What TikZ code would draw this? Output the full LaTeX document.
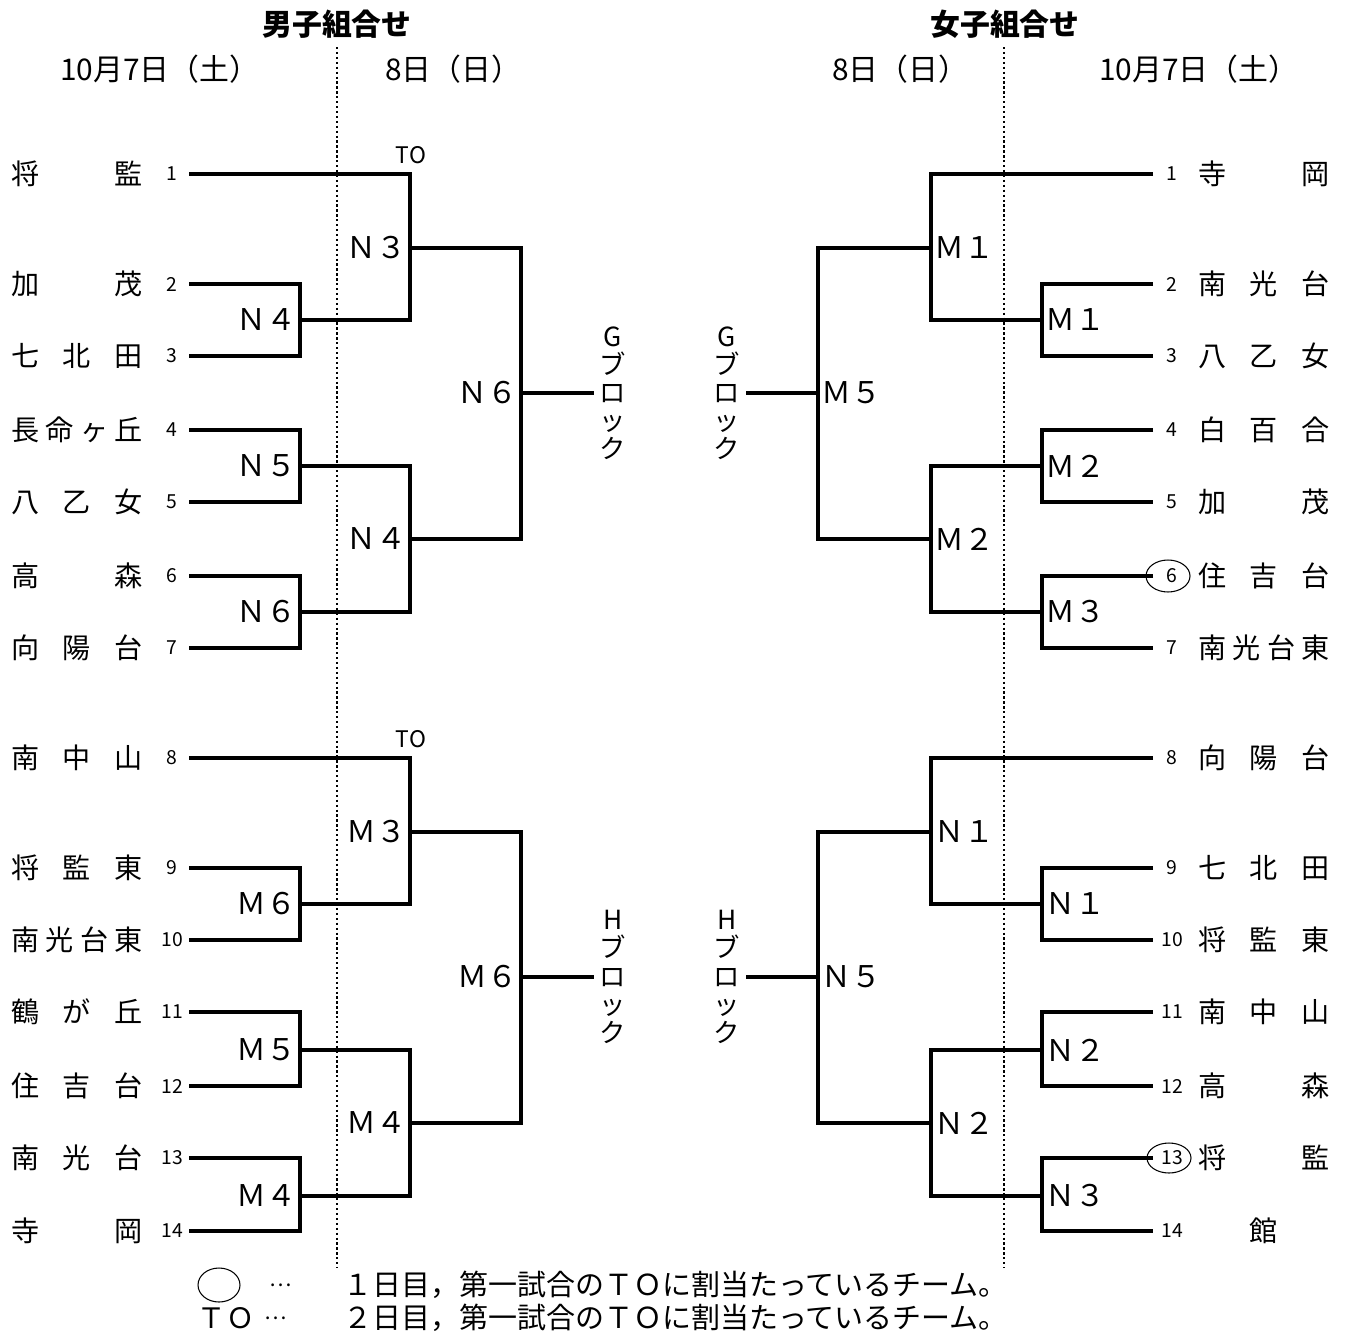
\documentclass[tikz,border=0pt]{standalone}
\usepackage{fontspec}
\setmainfont{Noto Sans CJK JP}
\usetikzlibrary{shapes.geometric}
\newcommand\setfs[1]{\fontsize{#1}{#1}\selectfont}

\begin{document}
\begin{tikzpicture}[x=0.02cm, y=-0.02cm,
	bracket/.style={line width=1.8pt},
	daysep/.style={line width=1.3pt, dash pattern=on 1.3pt off 1.5pt},
	team/.style={inner sep=0pt, font=\setfs{16}},
	seed/.style={inner sep=0pt, font=\setfs{11}},
	lblL/.style={anchor=east, inner sep=2pt, font=\setfs{17}},
	lblR/.style={anchor=west, inner sep=2pt, font=\setfs{17}},
	blocktxt/.style={align=center, font=\fontsize{15}{16}\selectfont, inner sep=3pt},
	tomark/.style={font=\setfs{13}},
	ring/.style={draw, ellipse, line width=0.6pt, inner sep=0pt}]
	\useasboundingbox (0,0) rectangle (1349,1339);

	% titles and days
	\node[font=\setfs{17}\bfseries] (boys) at (337,24) {男子組合せ};
	\node[font=\setfs{17}\bfseries] (girls) at (1005,24) {女子組合せ};
	\node[anchor=west, font=\setfs{17}] (dayLa) at (54,69) {10月7日（土）};
	\node[anchor=west, font=\setfs{17}] (dayLb) at (379,69) {8日（日）};
	\node[anchor=west, font=\setfs{17}] (dayRb) at (826,69) {8日（日）};
	\node[anchor=west, font=\setfs{17}] (dayRa) at (1093,69) {10月7日（土）};

	% day separators
	\coordinate (sepLt) at (337,47);
	\coordinate (sepLb) at (337,1268);
	\coordinate (sepRt) at (1004,47);
	\coordinate (sepRb) at (1004,1268);
	\draw[daysep] (sepLt) -- (sepLb);
	\draw[daysep] (sepRt) -- (sepRb);

	% boys teams
	\foreach \k/\yy/\tm in {1/174/{将\hfill 監}, 2/284/{加\hfill 茂}, 3/356/{七\hfill 北\hfill 田},
		4/430/{長\hfill 命\hfill ヶ\hfill 丘}, 5/502/{八\hfill 乙\hfill 女}, 6/576/{高\hfill 森},
		7/648/{向\hfill 陽\hfill 台}, 8/758/{南\hfill 中\hfill 山}, 9/868/{将\hfill 監\hfill 東},
		10/940/{南\hfill 光\hfill 台\hfill 東}, 11/1012/{鶴\hfill が\hfill 丘}, 12/1086/{住\hfill 吉\hfill 台},
		13/1158/{南\hfill 光\hfill 台}, 14/1231/{寺\hfill 岡}}{
		\node[team] (tl\k) at (77,\yy) {\makebox[2.62cm][s]{\tm}};
		\node[seed] (sl\k) at (172,\yy) {\k};
		\coordinate (L\k) at (189,\yy);
	}

	% girls teams
	\foreach \k/\yy/\tm in {1/174/{寺\hfill 岡}, 2/284/{南\hfill 光\hfill 台}, 3/356/{八\hfill 乙\hfill 女},
		4/430/{白\hfill 百\hfill 合}, 5/502/{加\hfill 茂}, 6/576/{住\hfill 吉\hfill 台},
		7/648/{南\hfill 光\hfill 台\hfill 東}, 8/758/{向\hfill 陽\hfill 台}, 9/868/{七\hfill 北\hfill 田},
		10/940/{将\hfill 監\hfill 東}, 11/1012/{南\hfill 中\hfill 山}, 12/1086/{高\hfill 森},
		13/1158/{将\hfill 監}, 14/1231/{\hfill 館\hfill}}{
		\node[team] (tr\k) at (1264,\yy) {\makebox[2.64cm][s]{\tm}};
		\node[seed] (sr\k) at (1172,\yy) {\k};
		\coordinate (R\k) at (1153,\yy);
	}
	\node[ring, minimum width=0.88cm, minimum height=0.64cm] (ring6) at (1168,576) {};
	\node[ring, minimum width=0.88cm, minimum height=0.6cm] (ring13) at (1169,1158) {};

	% boys junctions
	\coordinate (J23) at (300,320);
	\coordinate (J45) at (300,466);
	\coordinate (J67) at (300,612);
	\coordinate (J910) at (300,904);
	\coordinate (J1112) at (300,1050);
	\coordinate (J1314) at (300,1196);
	\coordinate (K1) at (410,248);
	\coordinate (K2) at (410,539);
	\coordinate (K3) at (410,832);
	\coordinate (K4) at (410,1123);
	\coordinate (Q1) at (521,393);
	\coordinate (Q2) at (521,977);

	% girls junctions
	\coordinate (S23) at (1042,320);
	\coordinate (S45) at (1042,466);
	\coordinate (S67) at (1042,612);
	\coordinate (S910) at (1042,904);
	\coordinate (S1112) at (1042,1050);
	\coordinate (S1314) at (1042,1196);
	\coordinate (U1) at (931,248);
	\coordinate (U2) at (931,539);
	\coordinate (U3) at (931,832);
	\coordinate (U4) at (931,1123);
	\coordinate (W1) at (818,393);
	\coordinate (W2) at (818,977);

	% block labels
	\node[blocktxt] (gL) at (613,393) {G\\ブ\\ロ\\ッ\\ク};
	\node[blocktxt] (gR) at (727,393) {G\\ブ\\ロ\\ッ\\ク};
	\node[blocktxt] (hL) at (613,977) {H\\ブ\\ロ\\ッ\\ク};
	\node[blocktxt] (hR) at (727,977) {H\\ブ\\ロ\\ッ\\ク};

	% boys bracket
	\draw[bracket] (L1) -| (K1) |- (J23);
	\draw[bracket] (L2) -| (J23) |- (L3);
	\draw[bracket] (J45) -| (K2) |- (J67);
	\draw[bracket] (L4) -| (J45) |- (L5);
	\draw[bracket] (L6) -| (J67) |- (L7);
	\draw[bracket] (K1) -| (Q1) |- (K2);
	\draw[bracket] (Q1) -- (gL);
	\draw[bracket] (L8) -| (K3) |- (J910);
	\draw[bracket] (L9) -| (J910) |- (L10);
	\draw[bracket] (J1112) -| (K4) |- (J1314);
	\draw[bracket] (L11) -| (J1112) |- (L12);
	\draw[bracket] (L13) -| (J1314) |- (L14);
	\draw[bracket] (K3) -| (Q2) |- (K4);
	\draw[bracket] (Q2) -- (hL);

	% girls bracket
	\draw[bracket] (R1) -| (U1) |- (S23);
	\draw[bracket] (R2) -| (S23) |- (R3);
	\draw[bracket] (S45) -| (U2) |- (S67);
	\draw[bracket] (R4) -| (S45) |- (R5);
	\draw[bracket] (R6) -| (S67) |- (R7);
	\draw[bracket] (U1) -| (W1) |- (U2);
	\draw[bracket] (W1) -- (gR);
	\draw[bracket] (R8) -| (U3) |- (S910);
	\draw[bracket] (R9) -| (S910) |- (R10);
	\draw[bracket] (S1112) -| (U4) |- (S1314);
	\draw[bracket] (R11) -| (S1112) |- (R12);
	\draw[bracket] (R13) -| (S1314) |- (R14);
	\draw[bracket] (U3) -| (W2) |- (U4);
	\draw[bracket] (W2) -- (hR);

	% match labels
	\node[lblL] (mJ23) at (J23) {Ｎ４};
	\node[lblL] (mK1) at (K1) {Ｎ３};
	\node[lblL] (mJ45) at (J45) {Ｎ５};
	\node[lblL] (mJ67) at (J67) {Ｎ６};
	\node[lblL] (mK2) at (K2) {Ｎ４};
	\node[lblL] (mQ1) at (Q1) {Ｎ６};
	\node[lblL] (mJ910) at (J910) {Ｍ６};
	\node[lblL] (mK3) at (K3) {Ｍ３};
	\node[lblL] (mJ1112) at (J1112) {Ｍ５};
	\node[lblL] (mJ1314) at (J1314) {Ｍ４};
	\node[lblL] (mK4) at (K4) {Ｍ４};
	\node[lblL] (mQ2) at (Q2) {Ｍ６};
	\node[lblR] (mU1) at (U1) {Ｍ１};
	\node[lblR] (mS23) at (S23) {Ｍ１};
	\node[lblR] (mW1) at (W1) {Ｍ５};
	\node[lblR] (mS45) at (S45) {Ｍ２};
	\node[lblR] (mU2) at (U2) {Ｍ２};
	\node[lblR] (mS67) at (S67) {Ｍ３};
	\node[lblR] (mU3) at (U3) {Ｎ１};
	\node[lblR] (mS910) at (S910) {Ｎ１};
	\node[lblR] (mW2) at (W2) {Ｎ５};
	\node[lblR] (mS1112) at (S1112) {Ｎ２};
	\node[lblR] (mU4) at (U4) {Ｎ２};
	\node[lblR] (mS1314) at (S1314) {Ｎ３};

	\node[tomark] (toA) at (411,155) {TO};
	\node[tomark] (toB) at (411,739) {TO};

	% legend
	\node[ring, minimum width=0.84cm, minimum height=0.68cm] (legO) at (219,1285) {};
	\node[font=\setfs{12}] (dotsA) at (281,1285) {…};
	\node[anchor=west, inner sep=0pt, font=\setfs{16.5}] (legA) at (343,1285) {１日目，第一試合のＴＯに割当たっているチーム。};
	\node[font=\setfs{16}] (legTO) at (226,1318) {ＴＯ};
	\node[font=\setfs{12}] (dotsB) at (276,1318) {…};
	\node[anchor=west, inner sep=0pt, font=\setfs{16.5}] (legB) at (343,1318) {２日目，第一試合のＴＯに割当たっているチーム。};
\end{tikzpicture}
\end{document}
